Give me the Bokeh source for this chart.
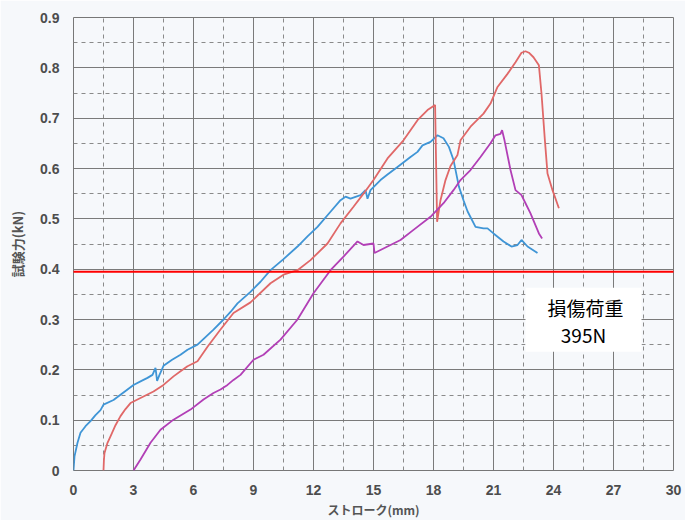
from bokeh.plotting import figure
from bokeh.models import FixedTicker, BoxAnnotation, Label, Range1d
from bokeh.embed import file_html
from bokeh.resources import INLINE

# Stroke (mm) vs. test force (kN) for three specimens
blue_x = [0, 0.05, 0.2, 0.35, 0.6, 0.85, 1.1, 1.35, 1.5, 2.0, 2.5, 3.0, 3.4, 3.7, 3.95, 4.1,
          4.18, 4.3, 4.5, 4.93, 5.35, 5.7, 6.2, 7.0, 7.5, 7.85, 8.2, 8.85, 9.35, 9.85, 10.5,
          11.2, 11.7, 12.2, 12.85, 13.35, 13.6, 13.85, 14.35, 14.6, 14.7, 14.85, 15.35,
          15.7, 16.2, 16.85, 17.2, 17.45, 17.85, 18.2, 18.5, 18.77, 19.0, 19.27, 19.5,
          19.7, 20.1, 20.5, 20.7, 21.0, 21.5, 21.9, 22.2, 22.4, 22.7, 23.2]
blue_y = [0, 0.028, 0.055, 0.075, 0.088, 0.098, 0.11, 0.12, 0.131, 0.14, 0.155, 0.17, 0.178,
          0.184, 0.19, 0.204, 0.178, 0.19, 0.208, 0.22, 0.23, 0.24, 0.25, 0.28, 0.30, 0.315,
          0.332, 0.355, 0.375, 0.398, 0.42, 0.445, 0.465, 0.484, 0.514, 0.537, 0.544, 0.54,
          0.547, 0.557, 0.54, 0.557, 0.577, 0.588, 0.603, 0.623, 0.633, 0.646, 0.653, 0.666,
          0.66, 0.643, 0.617, 0.564, 0.537, 0.515, 0.484, 0.481, 0.481, 0.471, 0.455, 0.445,
          0.448, 0.458, 0.445, 0.432]

red_x = [1.5, 1.52, 1.55, 1.7, 1.85, 2.1, 2.35, 2.6, 2.85, 3.35, 4.0, 4.5, 5.0, 5.35, 5.7,
         6.2, 6.7, 7.35, 8.0, 8.85, 9.85, 10.5, 11.2, 11.85, 12.7, 13.35, 14.0, 14.5, 15.0,
         15.7, 16.5, 17.2, 17.7, 18.08, 18.18, 18.35, 18.6, 18.85, 19.2, 19.35, 19.85, 20.5,
         20.85, 21.2, 21.7, 22.1, 22.4, 22.6, 22.77, 23.0, 23.27, 23.4, 23.57, 23.7, 23.95,
         24.27]
red_y = [0, 0.02, 0.035, 0.055, 0.068, 0.09, 0.108, 0.122, 0.134, 0.144, 0.157, 0.17, 0.187,
         0.197, 0.207, 0.217, 0.246, 0.28, 0.313, 0.334, 0.372, 0.389, 0.398, 0.418, 0.451,
         0.491, 0.524, 0.55, 0.577, 0.62, 0.656, 0.696, 0.716, 0.726, 0.494, 0.537, 0.577,
         0.605, 0.627, 0.656, 0.683, 0.709, 0.729, 0.762, 0.788, 0.811, 0.830, 0.833, 0.83,
         0.821, 0.805, 0.749, 0.656, 0.59, 0.557, 0.521]

purple_x = [3.0, 3.35, 3.85, 4.35, 5.0, 5.85, 6.5, 7.0, 7.35, 7.7, 8.0, 8.35, 9.0, 9.5, 10.35,
            11.2, 12.0, 12.85, 13.5, 14.2, 14.5, 15.0, 15.05, 15.7, 16.35, 17.0, 17.85, 18.5,
            19.0, 19.35, 19.85, 20.35, 20.85, 21.1, 21.35, 21.43, 21.55, 21.85, 22.1, 22.4,
            22.6, 22.85, 23.27, 23.43]
purple_y = [0, 0.022, 0.055, 0.081, 0.101, 0.121, 0.141, 0.154, 0.161, 0.17, 0.18, 0.19, 0.22,
            0.23, 0.26, 0.30, 0.352, 0.398, 0.425, 0.455, 0.448, 0.451, 0.432, 0.445, 0.458,
            0.478, 0.504, 0.531, 0.557, 0.577, 0.597, 0.623, 0.65, 0.666, 0.669, 0.676, 0.656,
            0.597, 0.557, 0.547, 0.531, 0.511, 0.471, 0.461]

# damage load threshold (kN)
damage_load = 0.395
band_half = 0.002  # half thickness of the threshold band, in kN

x_ticks = [0, 3, 6, 9, 12, 15, 18, 21, 24, 27, 30]
x_minor = [1.5, 4.5, 7.5, 10.5, 13.5, 16.5, 19.5, 22.5, 25.5, 28.5]
y_ticks = [0, 0.1, 0.2, 0.3, 0.4, 0.5, 0.6, 0.7, 0.8, 0.9]
y_labels = ["0", "0.1", "0.2", "0.3", "0.4", "0.5", "0.6", "0.7", "0.8", "0.9"]
y_minor = [0.05, 0.15, 0.25, 0.35, 0.45, 0.55, 0.65, 0.75, 0.85]

bg = "#f6f8fb"
p = figure(width=685, height=520, output_backend="svg", toolbar_location=None,
           x_range=Range1d(0, 30), y_range=Range1d(0, 0.9),
           min_border_left=73, min_border_right=12, min_border_top=17, min_border_bottom=49,
           background_fill_color=bg, border_fill_color=bg)

p.outline_line_color = "#777777"
p.outline_line_width = 1

p.xaxis.ticker = FixedTicker(ticks=x_ticks, minor_ticks=x_minor)
p.yaxis.ticker = FixedTicker(ticks=y_ticks, minor_ticks=y_minor)
p.yaxis.major_label_overrides = {t: s for t, s in zip(y_ticks, y_labels)}

for ax in (p.xaxis, p.yaxis):
    ax.axis_line_color = None
    ax.major_tick_line_color = None
    ax.minor_tick_line_color = None
    ax.major_tick_out = 0
    ax.major_tick_in = 0
    ax.major_label_text_font = "Liberation Sans"
    ax.major_label_text_font_style = "bold"
    ax.major_label_text_font_size = "14px"
    ax.major_label_text_color = "#4d4d4d"
    ax.axis_label_text_font = "Noto Sans CJK JP"
    ax.axis_label_text_font_style = "bold"
    ax.axis_label_text_color = "#555555"
    ax.major_label_standoff = 10

p.xaxis.axis_label = "ストローク(mm)"
p.yaxis.axis_label = "試験力(kN)"
p.xaxis.axis_label_text_font_size = "12px"
p.yaxis.axis_label_text_font_size = "13px"
p.xaxis.axis_label_standoff = 3
p.yaxis.axis_label_standoff = 10

for g in (p.xgrid, p.ygrid):
    g.grid_line_color = "#7a7a7a"
    g.grid_line_width = 1
    g.minor_grid_line_color = "#8a8a8a"
    g.minor_grid_line_width = 1
    g.minor_grid_line_dash = "4 4"

p.line(blue_x, blue_y, line_color="#3f95d6", line_width=1.8)
p.line(red_x, red_y, line_color="#e06868", line_width=1.8)
p.line(purple_x, purple_y, line_color="#b23fb6", line_width=1.8)

# damage load line, running slightly past the chart frame
p.add_layout(BoxAnnotation(left=64, right=683, left_units="canvas", right_units="canvas",
                           top=damage_load + band_half, bottom=damage_load - band_half,
                           fill_color="#ff0000", fill_alpha=1.0, line_color=None))

# note box
p.add_layout(BoxAnnotation(left=22.6, right=28.4, top=0.363, bottom=0.236,
                           fill_color="white", fill_alpha=1.0, line_color=None))
p.add_layout(Label(x=25.6, y=0.323, text="損傷荷重", text_align="center",
                   text_baseline="middle", text_font="Noto Sans CJK JP",
                   text_font_size="19px", text_color="black"))
p.add_layout(Label(x=25.5, y=0.27, text=f"{round(damage_load * 1000)}N",
                   text_align="center", text_baseline="middle",
                   text_font="Noto Sans CJK JP", text_font_size="19px",
                   text_color="black"))

open("out.html", "w").write(file_html(p, INLINE))
